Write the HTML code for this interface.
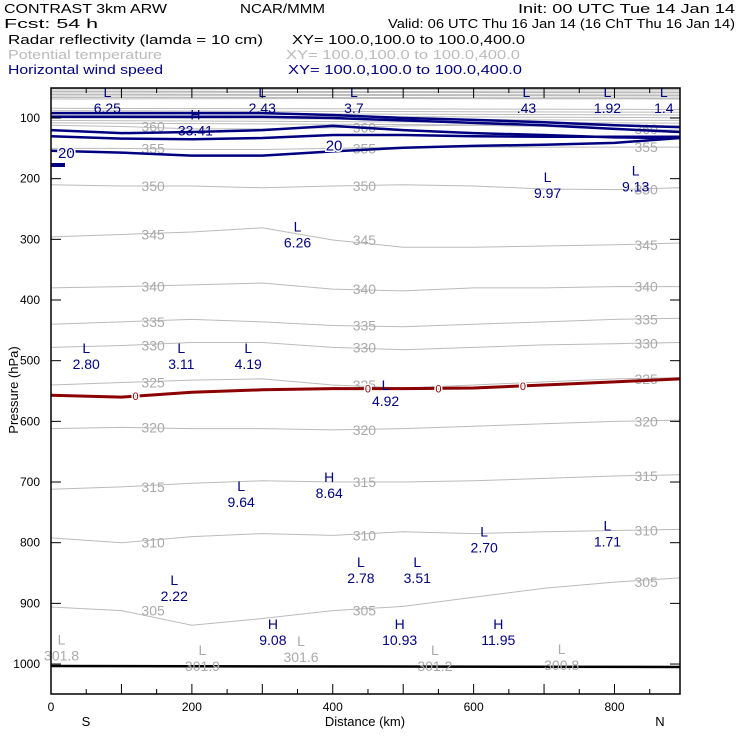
<!DOCTYPE html>
<html><head><meta charset="utf-8"><style>
body{margin:0;background:#fff}
svg text{font-family:"Liberation Sans",sans-serif}
</style></head><body>
<svg id="chart" width="740" height="740" viewBox="0 0 740 740">
<rect width="740" height="740" fill="#fff"/>
<g font-size="13" xml:space="preserve">
<text x="4" y="13" textLength="163" lengthAdjust="spacingAndGlyphs">CONTRAST  3km ARW</text>
<text x="240" y="13" textLength="85" lengthAdjust="spacingAndGlyphs">NCAR/MMM</text>
<text x="518" y="13" textLength="217" lengthAdjust="spacingAndGlyphs">Init: 00 UTC Tue 14 Jan 14</text>
<text x="4" y="28" textLength="94" lengthAdjust="spacingAndGlyphs">Fcst:   54 h</text>
<text x="388" y="28" textLength="347" lengthAdjust="spacingAndGlyphs">Valid: 06 UTC Thu 16 Jan 14 (16 ChT Thu 16 Jan 14)</text>
<text x="8" y="44" textLength="255" lengthAdjust="spacingAndGlyphs">Radar reflectivity (lamda = 10 cm)</text>
<text x="292" y="44" textLength="233" lengthAdjust="spacingAndGlyphs">XY= 100.0,100.0 to 100.0,400.0</text>
<text x="8" y="59" fill="#bbb" textLength="154" lengthAdjust="spacingAndGlyphs">Potential temperature</text>
<text x="286" y="59" fill="#bbb" textLength="234" lengthAdjust="spacingAndGlyphs">XY= 100.0,100.0 to 100.0,400.0</text>
<text x="8" y="74" fill="#000080" textLength="155" lengthAdjust="spacingAndGlyphs">Horizontal wind speed</text>
<text x="288" y="74" fill="#000080" textLength="234" lengthAdjust="spacingAndGlyphs">XY= 100.0,100.0 to 100.0,400.0</text>
</g>
<g id="plot"></g>
<g id="axes"></g>
</svg>
<script>
const xKm=[0,100,200,300,400,500,600,700,800,893];
const thetaLevels=[305,310,315,320,325,330,335,340,345,350,355,360];
const theta305=[906,912,936,925,912,905,890,875,865,858];
const theta310=[792,800,790,785,788,782,785,782,780,778];
const theta315=[712,708,702,698,700,700,698,694,690,688];
const theta320=[612,610,612,612,614,612,608,604,600,598];
const theta325=[540,536,532,530,540,545,540,535,530,528];
const theta330=[478,475,470,470,478,482,478,474,472,470];
const theta335=[440,436,432,436,442,444,440,436,432,430];
const theta340=[380,378,375,372,382,385,380,380,378,378];
const theta345=[296,292,288,281,301,313,313,311,309,306];
const theta350=[210,212,212,215,212,210,212,217,218,215];
const theta355=[150,150,152,152,150,148,148,148,148,148];
const theta360=[112,114,118,118,116,113,112,114,118,120];
const thetaSeries=[theta305,theta310,theta315,theta320,theta325,theta330,theta335,theta340,theta345,theta350,theta355,theta360];
const wind1=[92,92,92,92,95,100,103,107,112,115];
const wind2=[98,98,98,98,100,104,108,112,118,123];
const wind3=[120,125,123,120,113,120,125,128,132,133];
const wind4=[130,134,135,133,128,128,130,131,131,131];
const wind20=[154,157,162,162,155,149,146,144,141,133];
const windSeries=[wind1,wind2,wind3,wind4,wind20];
const freezing=[557,560,552,548,546,546,545,540,535,530];
const freezeLabelKm=[120,450,550,670];
const xTicks=[0,200,400,600,800];
const pTicks=[100,200,300,400,500,600,700,800,900,1000];
const extrema=[["L","6.25",80,75],["L","2.43",300,75],["L","3.7",430,75],["L",".43",675,75],["L","1.92",790,75],["L","1.4",870,75],
["H","33.41",205,112],["L","9.97",705,215],["L","9.13",830,205],["L","6.26",350,297],
["L","2.80",50,497],["L","3.11",185,497],["L","4.19",280,497],["L","4.92",475,558],
["H","8.64",395,710],["L","9.64",270,725],["L","1.71",790,790],["L","2.70",615,800],
["L","2.78",440,850],["L","3.51",520,850],["L","2.22",175,880],["H","9.08",315,952],["H","10.93",495,952],["H","11.95",635,952]];
const thetaLows=[["301.8",15,978],["301.9",215,995],["301.6",355,980],["301.2",545,995],["300.8",725,993]];
const X=k=>51+k*(629/893), Y=p=>118+(p-100)*0.6067;
const NS="http://www.w3.org/2000/svg";
const plot=document.getElementById('plot'), axes=document.getElementById('axes');
function mk(t,a,par){const e=document.createElementNS(NS,t);for(const k in a)e.setAttribute(k,a[k]);par.appendChild(e);return e;}
const band=mk('rect',{x:51,y:88,width:629,height:12,fill:'#bbb'},plot);


for(let i=0;i<4;i++){const l=mk('line',{x1:51,x2:680,y1:90+i*3,y2:91+i*3,stroke:'#fff','stroke-width':1},plot);

}
for(let i=0;i<7;i++){const l=mk('line',{x1:51,x2:680,y1:Y(84+i*4),y2:Y(86+i*4.5),stroke:'#bbb','stroke-width':1},plot);

}
const pts=a=>a.map((p,i)=>X(xKm[i])+','+Y(p)).join(' ');
thetaSeries.forEach((s,j)=>{const l=mk('polyline',{points:pts(s),fill:'none',stroke:'#bbb','stroke-width':1},plot);


[1,4,8].forEach(i=>{const t=mk('text',{x:X(xKm[i])+20,y:Y(s[i])+5,fill:'#aaa','font-size':14},plot);t.textContent=thetaLevels[j];

});});
windSeries.forEach((s,j)=>{const l=mk('polyline',{points:pts(s),fill:'none',stroke:'#000080','stroke-width':2.5},plot);

});
const stub=mk('line',{x1:51,x2:65,y1:165,y2:165,stroke:'#000080','stroke-width':4},plot);


[["20",10,158],["20",390,145]].forEach(d=>{const t=mk('text',{x:X(d[1]),y:Y(d[2])+5,fill:'#000080','font-size':15,stroke:'#fff','stroke-width':3,'paint-order':'stroke'},plot);t.textContent=d[0];

});
const fz=mk('polyline',{points:pts(freezing),fill:'none',stroke:'#8b0000','stroke-width':3},plot);


freezeLabelKm.forEach(k=>{let i=0;while(i<xKm.length-2&&xKm[i+1]<k)i++;const f=(k-xKm[i])/(xKm[i+1]-xKm[i]);const p=freezing[i]+f*(freezing[i+1]-freezing[i]);
const t=mk('text',{x:X(k),y:Y(p)+4,fill:'#8b0000','font-size':11,'text-anchor':'middle',stroke:'#fff','stroke-width':3,'paint-order':'stroke'},plot);t.textContent='0';

});
const gr=mk('line',{x1:51,x2:680,y1:666,y2:667,stroke:'#000','stroke-width':2.5},plot);


extrema.forEach(e=>{const g=mk('g',{fill:'#000080','font-size':14,'text-anchor':'middle'},plot);


mk('text',{x:X(e[2]),y:Y(e[3])-6},g).textContent=e[0];
mk('text',{x:X(e[2]),y:Y(e[3])+10},g).textContent=e[1];});
thetaLows.forEach(e=>{const g=mk('g',{fill:'#aaa','font-size':14,'text-anchor':'middle'},plot);


mk('text',{x:X(e[1]),y:Y(e[2])-6},g).textContent='L';
mk('text',{x:X(e[1]),y:Y(e[2])+10},g).textContent=e[0];});
const fr=mk('rect',{x:51,y:88,width:629,height:606,fill:'none',stroke:'#000','stroke-width':1.5},axes);


for(let k=0;k<=850;k+=50){const big=k%100===0;
mk('line',{x1:X(k),x2:X(k),y1:694,y2:694-(big?10:5),stroke:'#000'},axes);
mk('line',{x1:X(k),x2:X(k),y1:88,y2:88+(big?10:5),stroke:'#000'},axes);}
xTicks.forEach(k=>{const t=mk('text',{x:X(k),y:711,'font-size':12,'text-anchor':'middle'},axes);t.textContent=k;

});
pTicks.forEach(p=>{mk('line',{x1:51,x2:61,y1:Y(p),y2:Y(p),stroke:'#000'},axes);mk('line',{x1:680,x2:670,y1:Y(p),y2:Y(p),stroke:'#000'},axes);
const t=mk('text',{x:40,y:Y(p)+4,'font-size':12,'text-anchor':'end'},axes);t.textContent=p;

});
const xt=mk('text',{x:365,y:726,'font-size':13,'text-anchor':'middle'},axes);xt.textContent='Distance (km)';


const s=mk('text',{x:86,y:726,'font-size':13,'text-anchor':'middle'},axes);s.textContent='S';


const n=mk('text',{x:660,y:726,'font-size':13,'text-anchor':'middle'},axes);n.textContent='N';


const yt=mk('text',{x:18,y:390,'font-size':13,'text-anchor':'middle',transform:'rotate(-90 18 390)'},axes);yt.textContent='Pressure (hPa)';


</script>
</body></html>
